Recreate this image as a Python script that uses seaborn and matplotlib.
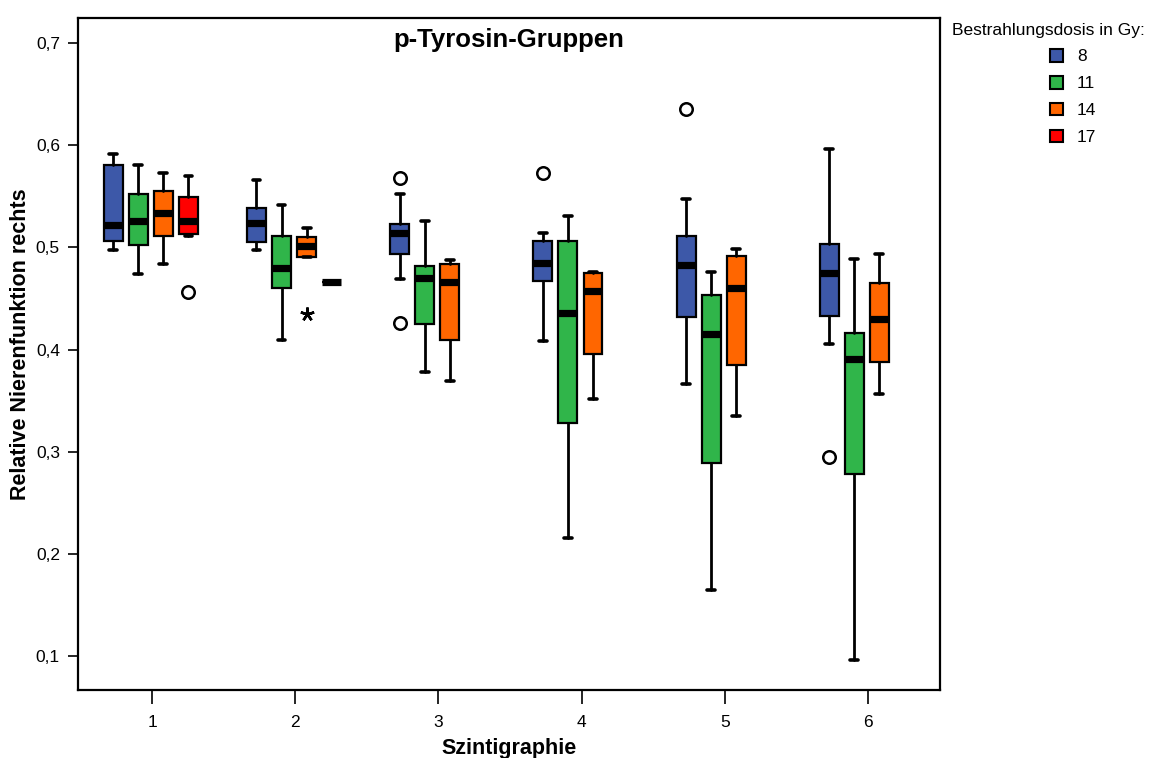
import numpy as np
import matplotlib
matplotlib.use("Agg")
import matplotlib.pyplot as plt
from matplotlib.patches import Patch
import seaborn as sns

# ---------------- data ----------------
groups = [1, 2, 3, 4, 5, 6]
doses = ["8", "11", "14", "17"]
colors = ["#3d58a8", "#30b54a", "#ff6600", "#ff0000"]

# five-number summaries per dose (None = no data in that group)
whislo_8  = [0.497, 0.497, 0.469, 0.408, 0.366, 0.405]
q1_8      = [0.506, 0.505, 0.493, 0.467, 0.432, 0.433]
med_8     = [0.522, 0.524, 0.514, 0.485, 0.483, 0.475]
q3_8      = [0.581, 0.539, 0.523, 0.506, 0.511, 0.503]
whishi_8  = [0.591, 0.566, 0.552, 0.514, 0.547, 0.596]

whislo_11 = [0.474, 0.409, 0.378, 0.215, 0.165, 0.096]
q1_11     = [0.502, 0.460, 0.425, 0.328, 0.289, 0.278]
med_11    = [0.526, 0.480, 0.470, 0.436, 0.415, 0.391]
q3_11     = [0.552, 0.511, 0.482, 0.506, 0.453, 0.416]
whishi_11 = [0.581, 0.541, 0.526, 0.531, 0.476, 0.489]

whislo_14 = [0.484, 0.491, 0.369, 0.352, 0.335, 0.356]
q1_14     = [0.511, 0.491, 0.409, 0.396, 0.385, 0.388]
med_14    = [0.534, 0.501, 0.466, 0.457, 0.460, 0.430]
q3_14     = [0.555, 0.510, 0.484, 0.475, 0.492, 0.465]
whishi_14 = [0.573, 0.519, 0.488, 0.476, 0.498, 0.493]

whislo_17 = [0.511, 0.466, None, None, None, None]
q1_17     = [0.513, 0.466, None, None, None, None]
med_17    = [0.526, 0.466, None, None, None, None]
q3_17     = [0.549, 0.466, None, None, None, None]
whishi_17 = [0.570, 0.466, None, None, None, None]

# outliers (circles): (group, dose index, value)
out_group = [1, 3, 3, 4, 5, 6]
out_dose  = [3, 0, 0, 0, 0, 0]
out_value = [0.456, 0.568, 0.426, 0.573, 0.635, 0.295]
# extreme values (asterisks)
ext_group = [2]
ext_dose  = [2]
ext_value = [0.435]

yticks = [0.1, 0.2, 0.3, 0.4, 0.5, 0.6, 0.7]
ytick_labels = ["0,1", "0,2", "0,3", "0,4", "0,5", "0,6", "0,7"]

title = "p-Tyrosin-Gruppen"
xlabel = "Szintigraphie"
ylabel = "Relative Nierenfunktion rechts"
legend_title = "Bestrahlungsdosis in Gy:"

# ---------------- style ----------------
sns.set_style("white")
plt.rcParams["font.family"] = ["Liberation Sans", "DejaVu Sans"]
plt.rcParams["text.color"] = "black"
plt.rcParams["axes.labelcolor"] = "black"
plt.rcParams["xtick.color"] = "black"
plt.rcParams["ytick.color"] = "black"

fig = plt.figure(figsize=(11.51, 7.58), dpi=100)
ax = fig.add_axes([78 / 1151, 68 / 758, 862 / 1151, 672 / 758])

summ = [
    (whislo_8, q1_8, med_8, q3_8, whishi_8),
    (whislo_11, q1_11, med_11, q3_11, whishi_11),
    (whislo_14, q1_14, med_14, q3_14, whishi_14),
    (whislo_17, q1_17, med_17, q3_17, whishi_17),
]

step = 0.175
shift = -0.008
width = 0.132


def pos(g, h):
    return g + (h - 1.5) * step + shift


for h, (wl, a, m, b, wh) in enumerate(summ):
    stats, positions = [], []
    for i, g in enumerate(groups):
        if m[i] is None:
            continue
        stats.append(dict(whislo=wl[i], q1=a[i], med=m[i], q3=b[i],
                          whishi=wh[i], fliers=[]))
        positions.append(pos(g, h))
    ax.bxp(stats, positions=positions, widths=width, patch_artist=True,
           showfliers=False, capwidths=0.055,
           boxprops=dict(facecolor=colors[h], edgecolor="black", linewidth=1.6),
           medianprops=dict(color="black", linewidth=5.2, solid_capstyle="butt"),
           whiskerprops=dict(color="black", linewidth=2.0),
           capprops=dict(color="black", linewidth=2.6), manage_ticks=False)

for g, h, v in zip(out_group, out_dose, out_value):
    ax.plot(pos(g, h), v, marker="o", ms=9, mfc="white", mec="black",
            mew=1.8, linestyle="none", zorder=5)
for g, h, v in zip(ext_group, ext_dose, ext_value):
    ax.plot(pos(g, h), v, marker=(5, 2, 0), ms=10, color="black",
            mew=1.8, linestyle="none", zorder=5)

ax.set_xlim(0.483, 6.503)
ax.set_ylim(0.0667, 0.7245)
ax.set_xticks(groups)
ax.set_xticklabels([str(g) for g in groups], fontsize=12.5)
ax.set_yticks(yticks)
ax.set_yticklabels(ytick_labels, fontsize=12.5)
ax.tick_params(axis="y", length=7, width=1.2, direction="out", pad=6, left=True)
ax.tick_params(axis="x", length=10, width=1.2, direction="out", pad=8, bottom=True)
for s in ax.spines.values():
    s.set_visible(True)
    s.set_color("black")
    s.set_linewidth(1.6)

ax.set_xlabel(xlabel, fontsize=15.5, fontweight="bold", labelpad=6)
ax.set_ylabel(ylabel, fontsize=15.5, fontweight="bold", labelpad=0)
ax.yaxis.set_label_coords(-47 / 862, 0.515)
ax.text(0.5, 0.985, title, transform=ax.transAxes, ha="center", va="top",
        fontsize=18.5, fontweight="bold")

handles = [Patch(facecolor=c, edgecolor="black", linewidth=1.5) for c in colors]
fig.text(952 / 1151, 1 - 30 / 758, legend_title, ha="left", va="center", fontsize=12.5)
fig.legend(handles, doses, loc="upper left",
           bbox_to_anchor=(1050 / 1151, 1 - 49 / 758), frameon=False,
           fontsize=12.5, handlelength=0.75, handleheight=0.75, handletextpad=0.8,
           labelspacing=0.66, borderaxespad=0, borderpad=0)

fig.savefig("out.png", dpi=100)
